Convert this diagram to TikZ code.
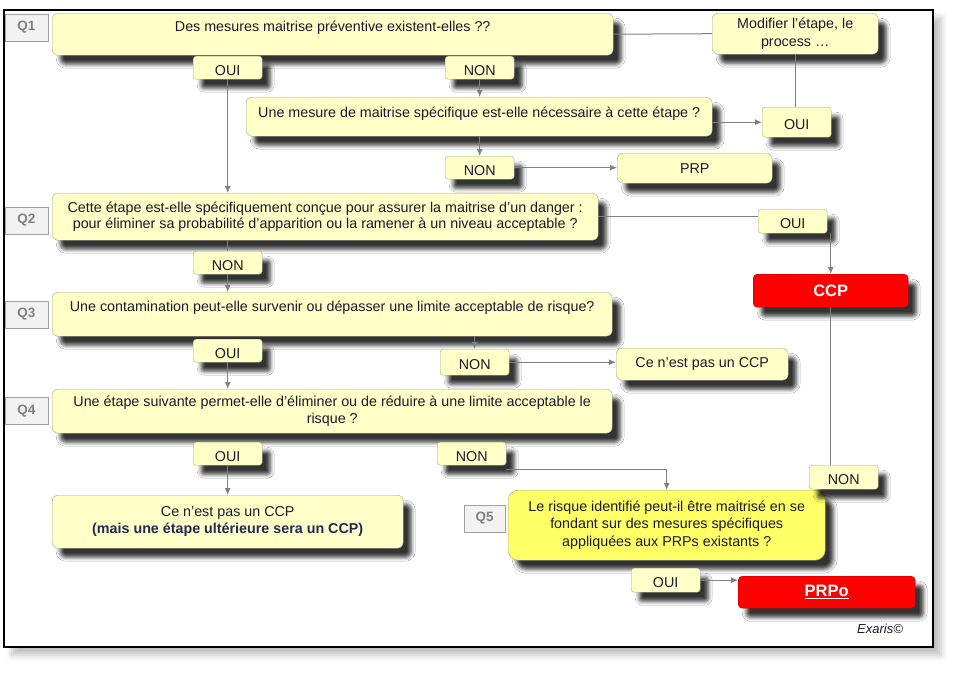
\documentclass[tikz,border=0pt]{standalone}
\usepackage{fontspec}
\setmainfont{Liberation Sans}
\usetikzlibrary{shadows.blur, arrows.meta}
\definecolor{boxfill}{HTML}{FFFFC8}
\definecolor{boxline}{HTML}{A6A68C}
\definecolor{brightfill}{HTML}{FFFF66}
\definecolor{redfill}{HTML}{FF0000}
\definecolor{redline}{HTML}{C00000}
\definecolor{txt}{HTML}{1A1A2A}
\definecolor{navy}{HTML}{1F2A55}
\definecolor{arrowgray}{HTML}{808080}
\definecolor{labelfill}{HTML}{F2F2F2}
\definecolor{labelline}{HTML}{A0A0A0}
\begin{document}
\begin{tikzpicture}[x=1pt, y=-1pt,
    font=\fontsize{14.3}{17.5}\selectfont,
    shade/.style={blur shadow={shadow xshift=8pt, shadow yshift=-9pt, shadow blur radius=4pt, shadow opacity=80}},
    qbox/.style={draw=boxline, fill=boxfill, rounded corners=6pt, text=txt, align=center, anchor=north west, inner sep=2pt, shade},
    ansbox/.style={qbox, rounded corners=3pt, minimum width=69pt, minimum height=23pt, text height=15pt, text depth=0pt},
    qlabel/.style={draw=labelline, fill=labelfill, text=gray, font=\fontsize{13.5}{15}\selectfont\bfseries, minimum width=43pt, minimum height=27pt, inner sep=0pt},
    redbox/.style={draw=redline, fill=redfill, rounded corners=4pt, text=white, font=\fontsize{16.5}{18}\selectfont\bfseries, anchor=north west, inner sep=2pt, shade},
    link/.style={draw=arrowgray, line width=1pt},
    arrow/.style={link, -{Latex[length=7pt, width=6pt]}}]
			\useasboundingbox (0,0) rectangle (957,672);

			% Frame
			\draw[line width=2pt, fill=white, blur shadow={shadow xshift=8pt, shadow yshift=-8pt, shadow blur radius=6pt, shadow opacity=25}] (4,10) rectangle (933,647);

			% Question labels
			\node[qlabel] (lab1) at (26.5,27.5) {Q1};
			\node[qlabel] (lab2) at (26.5,220.5) {Q2};
			\node[qlabel] (lab3) at (26.5,314.5) {Q3};
			\node[qlabel] (lab4) at (26.5,411) {Q4};
			\node[qlabel, minimum width=41pt] (lab5) at (484.5,518.5) {Q5};

			% Q1
			\node[qbox, minimum width=561pt, minimum height=42pt, text depth=15pt] (q1) at (52,13) {Des mesures maitrise préventive existent-elles ??};
			\node[qbox, minimum width=166pt, minimum height=41pt] (modif) at (712,13) {Modifier l'étape, le\\process …};
			\node[ansbox] (oui1) at (193,56) {OUI};
			\node[ansbox] (non1) at (445,56) {NON};
			\node[qbox, minimum width=466pt, minimum height=39pt, text depth=9pt] (q1b) at (246,97) {Une mesure de maitrise spécifique est-elle nécessaire à cette étape ?};
			\node[ansbox, minimum height=30pt] (oui1b) at (762,107) {OUI};
			\node[ansbox] (non2) at (445,156) {NON};
			\node[qbox, minimum width=155pt, minimum height=30pt] (prp) at (617,153) {PRP};

			% Q2
			\node[qbox, minimum width=546pt, minimum height=47pt] (q2) at (52,193) {Cette étape est-elle spécifiquement conçue pour assurer la maitrise d’un danger :\\[-2pt]pour éliminer sa probabilité d’apparition ou la ramener à un niveau acceptable ?};
			\node[ansbox, minimum height=24pt] (oui2) at (758,209) {OUI};
			\node[ansbox] (nonq2) at (193,251) {NON};
			\node[redbox, minimum width=155pt, minimum height=33pt] (ccp) at (753,274) {CCP};

			% Q3
			\node[qbox, minimum width=560pt, minimum height=44pt, text depth=15pt] (q3) at (52,292) {Une contamination peut-elle survenir ou dépasser une limite acceptable de risque?};
			\node[ansbox] (oui3) at (193,339) {OUI};
			\node[ansbox, minimum height=26pt] (non3) at (440,349) {NON};
			\node[qbox, minimum width=172pt, minimum height=32pt] (pas3) at (616,348) {Ce n’est pas un CCP};

			% Q4
			\node[qbox, minimum width=560pt, minimum height=44pt] (q4) at (52,389) {Une étape suivante permet-elle d’éliminer ou de réduire à une limite acceptable le\\risque ?};
			\node[ansbox] (oui4) at (193,442) {OUI};
			\node[ansbox] (non4) at (437,442) {NON};
			\node[qbox, minimum width=351pt, minimum height=53pt] (res4) at (52,495) {Ce n’est pas un CCP\\[-1pt]{\color{navy}\bfseries (mais une étape ultérieure sera un CCP)}};

			% Q5
			\node[qbox, fill=brightfill, minimum width=317pt, minimum height=70pt, rounded corners=10pt] (q5) at (508,490) {Le risque identifié peut-il être maitrisé en se\\fondant sur des mesures spécifiques\\appliquées aux PRPs existants ?};
			\node[ansbox, minimum height=24pt] (non5) at (809,465) {NON};
			\node[ansbox, minimum height=24pt] (oui5) at (631,568) {OUI};
			\node[redbox, minimum width=177pt, minimum height=32pt] (prpo) at (738,576) {\underline{PRPo}};

			\node[text=txt, font=\fontsize{13}{15}\selectfont\itshape] (sign) at (880,629) {Exaris©};

			% Connectors
			\draw[link] (q1.east) -- (modif.west);
			\draw[link] (modif.south) -- (modif.south |- oui1b.north);
			\draw[arrow] (q1b.east |- oui1b.west) -- (oui1b.west);
			\draw[arrow] (non1.south) -- (non1.south |- q1b.north);
			\draw[arrow] (non2.north |- q1b.south) -- (non2.north);
			\draw[arrow] (non2.east) -- (non2.east -| prp.west);
			\draw[arrow] (oui1.south) -- (oui1.south |- q2.north);
			\draw[link] (q2.east) -- (q2.east -| oui2.west);
			\draw[arrow] (ccp.north |- oui2.south) -- (ccp.north);
			\draw[link] (nonq2.north |- q2.south) -- (nonq2.north);
			\draw[arrow] (nonq2.south) -- (nonq2.south |- q3.north);
			\draw[arrow] (oui3.south) -- (oui3.south |- q4.north);
			\draw[arrow] (non3.north |- q3.south) -- (non3.north);
			\draw[arrow] (non3.east) -- (non3.east -| pas3.west);
			\draw[arrow] (oui4.south) -- (oui4.south |- res4.north);
			\draw[arrow] ([yshift=-4pt]non4.south east) -| (q5.north);
			\draw[link] (ccp.south) -- (ccp.south |- non5.north);
			\draw[arrow] (oui5.east) -- (oui5.east -| prpo.west);
		\end{tikzpicture}
\end{document}
